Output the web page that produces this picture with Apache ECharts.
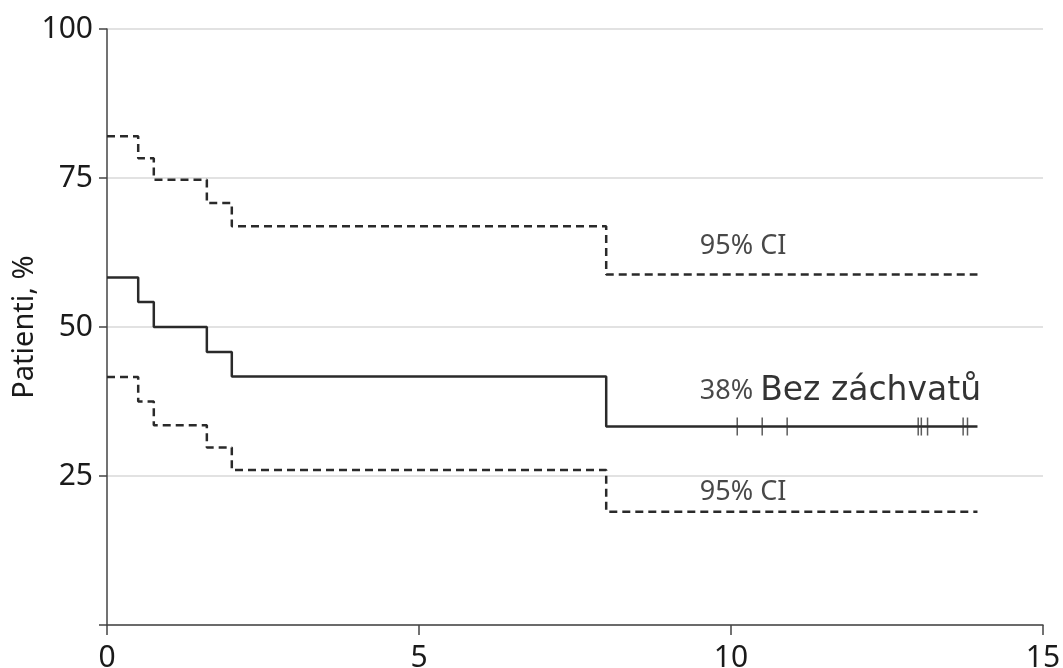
<!DOCTYPE html>
<html><head><meta charset="utf-8">
<script src="https://cdn.jsdelivr.net/npm/echarts@6/dist/echarts.min.js"></script>
<style>html,body{margin:0;padding:0;background:#fff}#c{width:1063px;height:668px}</style>
</head><body><div id="c"></div>
<script>
const survival = [[0,58.3],[0.5,54.2],[0.75,50],[1.6,45.8],[2,41.7],[8,33.3],[13.95,33.3]];
const upperCI = [[0,82],[0.5,78.3],[0.75,74.7],[1.6,70.8],[2,66.9],[8,58.8],[13.95,58.8]];
const lowerCI = [[0,41.6],[0.5,37.5],[0.75,33.5],[1.6,29.8],[2,26],[8,19],[13.95,19]];
const censored = [[10.1,33.3],[10.5,33.3],[10.9,33.3],[13.0,33.3],[13.05,33.3],[13.15,33.3],[13.72,33.3],[13.79,33.3]];
const xTicks = [0,5,10,15];
const yTicks = [25,50,75,100];
const labels = [
  {pos:[9.5,63.6], text:'95% CI'},
  {pos:[9.5,22.2], text:'95% CI'},
  {pos:[9.5,39.2], text:'{a|38%} {b|Bez záchvatů}'}
];

const chart = echarts.init(document.getElementById('c'));
chart.setOption({
  animation:false,
  grid:{left:107, right:20, top:29, bottom:43, containLabel:false, outerBoundsMode:'none'},
  xAxis:{type:'value', min:0, max:15, interval:5,
    axisLine:{lineStyle:{color:'#444', width:1.5}},
    axisTick:{show:true, length:10, lineStyle:{color:'#444', width:1.5}},
    axisLabel:{fontFamily:'Noto Sans', fontSize:30, color:'#1a1a1a', margin:18,
      formatter:v=> xTicks.includes(v)? String(v):''},
    splitLine:{show:false}},
  yAxis:{type:'value', min:0, max:100, interval:25,
    name:'Patienti, %', nameLocation:'middle', nameGap:68, nameMoveOverlap:false,
    nameTextStyle:{fontFamily:'Noto Sans', fontSize:29, color:'#1a1a1a'},
    axisLine:{show:true, lineStyle:{color:'#444', width:1.5}},
    axisTick:{show:true, length:8, lineStyle:{color:'#444', width:1.5}},
    axisLabel:{fontFamily:'Noto Sans', fontSize:30, color:'#1a1a1a', margin:14,
      formatter:v=> yTicks.includes(v)? String(v):''},
    splitLine:{show:true, lineStyle:{color:'#d9d9d9', width:1.5}}},
  series:[
    {type:'line', step:'end', data:survival, symbol:'none', lineStyle:{color:'#2a2a2a', width:2.5}, z:3},
    {type:'line', step:'end', data:upperCI, symbol:'none', lineStyle:{color:'#2a2a2a', width:2.5, type:[8,5]}},
    {type:'line', step:'end', data:lowerCI, symbol:'none', lineStyle:{color:'#2a2a2a', width:2.5, type:[8,5]}},
    {type:'scatter', data:censored, symbol:'rect', symbolSize:[1.5,18], itemStyle:{color:'#333'}, z:4},
    {type:'scatter', symbolSize:0, z:5,
      data:labels.map(l=>({value:l.pos, label:{formatter:l.text}})),
      label:{show:true, position:'right', distance:0, fontFamily:'Noto Sans', fontSize:27, color:'#1a1a1a',
        rich:{a:{fontFamily:'Noto Sans', fontSize:27, color:'#1a1a1a'},
              b:{fontFamily:'DejaVu Sans', fontSize:33, color:'#000'}}}}
  ]
});
</script></body></html>
